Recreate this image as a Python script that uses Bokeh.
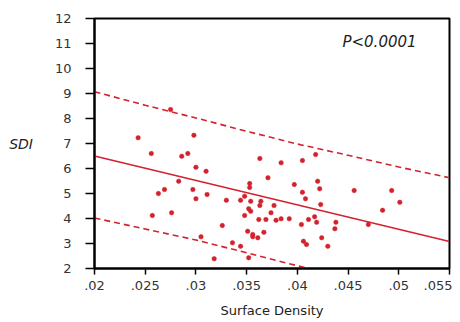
from bokeh.plotting import figure
from bokeh.models import FixedTicker, Range1d
from bokeh.core.properties import value
from bokeh.embed import file_html
from bokeh.resources import INLINE

# Scatter data (surface density vs SDI)
density = [.0243, .0256, .0275, .0286, .0292, .0298, .0300, .0310, .0363, .0384,
           .0371, .0418, .0405, .0283, .0269, .0263, .0297, .0300, .0311, .0257,
           .0276, .0305, .0353, .0353, .0397, .0330, .0344, .0348, .0354, .0364,
           .0363, .0377, .0352, .0354, .0374, .0348, .0362, .0369, .0379, .0384,
           .0392, .0326, .0351, .0356, .0356, .0361, .0367, .0336, .0344, .0318,
           .0352, .0420, .0422, .0405, .0408, .0456, .0493, .0501, .0423, .0484,
           .0417, .0411, .0419, .0438, .0404, .0437, .0470, .0424, .0406, .0409,
           .0430]
sdi = [7.23, 6.60, 8.36, 6.49, 6.60, 7.33, 6.05, 5.89, 6.40, 6.23,
       5.63, 6.56, 6.32, 5.49, 5.16, 5.00, 5.16, 4.79, 4.96, 4.12,
       4.23, 3.27, 5.40, 5.24, 5.36, 4.73, 4.73, 4.89, 4.69, 4.69,
       4.52, 4.52, 4.39, 4.29, 4.23, 4.12, 3.96, 3.96, 3.93, 3.99,
       3.99, 3.72, 3.49, 3.36, 3.27, 3.23, 3.45, 3.03, 2.89, 2.39,
       2.43, 5.49, 5.19, 5.05, 4.79, 5.12, 5.12, 4.65, 4.56, 4.33,
       4.07, 3.96, 3.85, 3.85, 3.76, 3.59, 3.76, 3.23, 3.09, 2.96,
       2.89]

# Regression line and prediction band
fit_x = [.02, .055]
fit_y = [6.50, 3.08]
band_x = [.02, .025, .03, .035, .04, .045, .05, .055]
band_upper = [9.07, 8.53, 8.02, 7.49, 6.98, 6.53, 6.06, 5.63]
band_lower = [4.02, 3.58, 3.14, 2.63, 2.11, 1.60, 1.10, 0.60]

x_ticks = [.02, .025, .03, .035, .04, .045, .05, .055]
x_tick_labels = [".02", ".025", ".03", ".035", ".04", ".045", ".05", ".055"]
y_ticks = [2, 3, 4, 5, 6, 7, 8, 9, 10, 11, 12]

p_text = "P<0.0001"
x_title = "Surface Density"
y_title = "SDI"

RED = "#d3222e"
FONT = "DejaVu Sans"

p = figure(width=452, height=320, output_backend="svg", toolbar_location=None,
           x_range=Range1d(.02, .055), y_range=Range1d(2, 12),
           min_border_left=94, min_border_right=3, min_border_top=18,
           min_border_bottom=51)
p.background_fill_color = "white"
p.border_fill_color = "white"
p.grid.visible = False
p.outline_line_color = "black"
p.outline_line_width = 2

p.line(band_x, band_upper, line_color=RED, line_width=1.6, line_dash="6 4")
p.line(band_x, band_lower, line_color=RED, line_width=1.6, line_dash="6 4")
p.line(fit_x, fit_y, line_color=RED, line_width=1.6)
p.scatter(density, sdi, size=4.5, fill_color=RED, line_color=RED, line_width=0.5)

p.text(x=[.0481], y=[11.08], text=[p_text], text_font=value(FONT),
       text_font_size="15px", text_font_style="italic", text_color="#222222",
       text_align="center", text_baseline="middle")

xa = p.xaxis[0]
xa.ticker = FixedTicker(ticks=x_ticks)
xa.major_label_overrides = {t: l for t, l in zip(x_ticks, x_tick_labels)}
xa.minor_tick_line_color = None
xa.major_tick_out = 6
xa.major_tick_in = 0
xa.axis_line_width = 2
xa.major_tick_line_width = 1.5
xa.major_label_text_font = FONT
xa.major_label_text_font_size = "13px"
xa.major_label_text_color = "#333333"
xa.major_label_standoff = 6
xa.axis_label = x_title
xa.axis_label_text_font = FONT
xa.axis_label_text_font_size = "13px"
xa.axis_label_text_font_style = "normal"
xa.axis_label_text_color = "#222222"
xa.axis_label_standoff = 10

ya = p.yaxis[0]
ya.ticker = FixedTicker(ticks=y_ticks)
ya.minor_tick_line_color = None
ya.major_tick_out = 9
ya.major_tick_in = 0
ya.axis_line_width = 2
ya.major_tick_line_width = 1.5
ya.major_label_text_font = FONT
ya.major_label_text_font_size = "13px"
ya.major_label_text_color = "#333333"
ya.major_label_standoff = 14
ya.axis_label = y_title
ya.axis_label_orientation = "horizontal"
ya.axis_label_text_font = FONT
ya.axis_label_text_font_size = "14px"
ya.axis_label_text_font_style = "italic"
ya.axis_label_text_color = "#222222"
ya.axis_label_standoff = 19

open("out.html", "w").write(file_html(p, INLINE))
